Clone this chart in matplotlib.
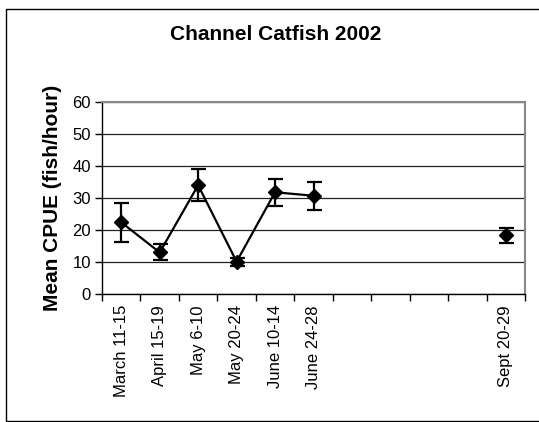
import numpy as np
import matplotlib
matplotlib.use("Agg")
import matplotlib.pyplot as plt
from matplotlib.lines import Line2D

plt.rcParams['font.family'] = ['Liberation Sans', 'DejaVu Sans']

categories = ["March 11-15", "April 15-19", "May 6-10", "May 20-24",
              "June 10-14", "June 24-28", "", "", "", "", "Sept 20-29"]
cpue = [22.4, 13.0, 34.0, 10.1, 31.8, 30.7, np.nan, np.nan, np.nan, np.nan, 18.3]
err = [6.0, 2.5, 5.0, 1.2, 4.2, 4.3, np.nan, np.nan, np.nan, np.nan, 2.3]
yticks = [0, 10, 20, 30, 40, 50, 60]

W, H = 539, 422
fig = plt.figure(figsize=(W / 100, H / 100), dpi=100)
fig.patch.set_facecolor("white")

# outer chart frame (right edge lies beyond the image)
fx0, fy0, fx1, fy1 = 6, 8.5, 545, 420.5
fig.add_artist(Line2D([fx1 / W, fx0 / W, fx0 / W, fx1 / W],
                      [1 - fy0 / H, 1 - fy0 / H, 1 - fy1 / H, 1 - fy1 / H],
                      transform=fig.transFigure, color="black", lw=1.0))

left, right, top, bottom = 102, 525, 102, 294
ax = fig.add_axes([left / W, 1 - bottom / H, (right - left) / W, (bottom - top) / H])

x = np.arange(len(categories))
ax.errorbar(x, cpue, yerr=err, fmt="none", ecolor="black", elinewidth=1.6,
            capsize=5.4, capthick=1.6, zorder=3)
ax.plot(x, cpue, color="black", lw=1.6, marker="D", markersize=7.2,
        markerfacecolor="black", markeredgecolor="black", zorder=4)

ax.set_xlim(-0.5, len(categories) - 0.5)
ax.set_ylim(0, 60)
ax.set_yticks(yticks)
ax.set_yticklabels([str(v) for v in yticks], fontsize=12)
ax.yaxis.grid(True, color="#222222", lw=0.9)
ax.set_axisbelow(True)

ax.set_xticks(np.arange(-0.5, len(categories), 1.0))
ax.set_xticklabels([])
ax.set_xticks(x, minor=True)
ax.set_xticklabels(categories, minor=True, rotation=90, fontsize=12, va="top")
ax.tick_params(axis="x", which="minor", length=0, pad=8)
ax.tick_params(axis="x", which="major", direction="out", length=5, width=1, color="black")
ax.tick_params(axis="y", direction="out", length=5, width=1, pad=3)

for s in ["top", "right"]:
    ax.spines[s].set_color("#888888")
    ax.spines[s].set_linewidth(1.5)
for s in ["left", "bottom"]:
    ax.spines[s].set_color("black")
    ax.spines[s].set_linewidth(1.0)

fig.text(275.5 / W, 1 - 35 / H, "Channel Catfish 2002", fontsize=15,
         fontweight="bold", ha="center", va="center")
fig.text(52.5 / W, 1 - 198 / H, "Mean CPUE (fish/hour)", fontsize=15,
         fontweight="bold", rotation=90, ha="center", va="center")

fig.savefig("out.png", dpi=100, facecolor="white")
